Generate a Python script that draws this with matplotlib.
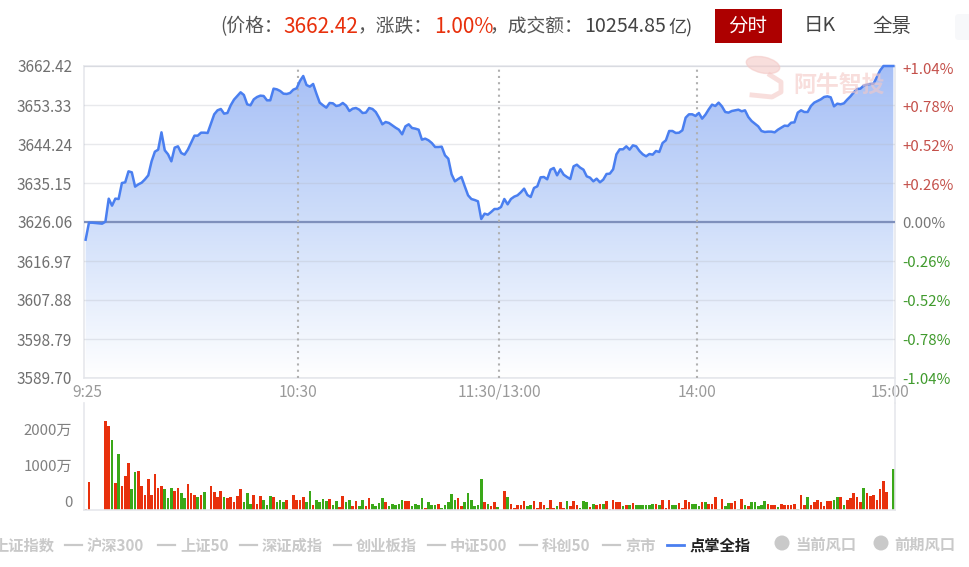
import matplotlib
matplotlib.use("Agg")
import matplotlib.pyplot as plt
import numpy as np
from matplotlib.colors import LinearSegmentedColormap
from matplotlib.patches import Circle, Ellipse, FancyBboxPatch, Rectangle
from matplotlib.transforms import ScaledTranslation

plt.rcParams["font.family"] = ["Noto Sans CJK SC", "DejaVu Sans"]

W, H = 969, 567

# one value per minute slot, 9:25 to 15:00
prices = [
    3621.94, 3625.90, 3625.90, 3625.83, 3625.75, 3625.67, 3626.14, 3631.50, 3629.87, 3631.50,
    3631.42, 3635.15, 3635.31, 3637.87, 3637.64, 3634.30, 3634.84, 3635.23, 3636.01, 3636.94,
    3640.20, 3642.45, 3642.92, 3646.96, 3642.77, 3641.83, 3640.20, 3643.39, 3643.70, 3642.14,
    3641.76, 3642.92, 3644.55, 3646.18, 3646.18, 3646.88, 3646.88, 3646.81, 3648.98, 3651.16,
    3652.09, 3652.40, 3651.31, 3651.47, 3653.26, 3654.58, 3655.43, 3656.29, 3655.66, 3653.49,
    3653.26, 3654.65, 3655.20, 3655.51, 3655.43, 3654.42, 3654.42, 3657.14, 3656.98, 3656.60,
    3655.97, 3655.90, 3656.13, 3656.91, 3657.22, 3658.93, 3660.09, 3657.99, 3657.61, 3658.23,
    3655.97, 3653.88, 3653.26, 3652.71, 3653.80, 3653.72, 3653.10, 3653.26, 3653.80, 3653.18,
    3651.93, 3652.48, 3652.63, 3652.24, 3651.47, 3651.55, 3652.63, 3652.40, 3651.70, 3650.38,
    3648.83, 3649.37, 3649.14, 3648.59, 3648.05, 3647.58, 3646.50, 3648.36, 3648.83, 3647.97,
    3647.82, 3647.58, 3645.25, 3645.49, 3645.10, 3644.47, 3643.54, 3643.54, 3643.62, 3641.60,
    3640.82, 3637.17, 3635.54, 3636.08, 3636.55, 3634.37, 3632.28, 3631.42, 3631.19, 3630.88,
    3626.76, 3628.00, 3627.77, 3628.39, 3629.09, 3629.09, 3629.56, 3631.42, 3630.18, 3631.42,
    3631.97, 3632.28, 3632.98, 3633.83, 3632.35, 3631.89, 3633.99, 3634.37, 3636.47, 3636.55,
    3636.01, 3638.26, 3638.65, 3636.94, 3638.34, 3637.09, 3636.55, 3636.08, 3639.04, 3639.42,
    3638.73, 3638.26, 3636.70, 3636.39, 3635.54, 3636.16, 3635.31, 3635.93, 3637.25, 3637.33,
    3638.34, 3641.83, 3643.00, 3643.00, 3643.70, 3642.92, 3643.93, 3643.70, 3642.61, 3641.83,
    3641.37, 3641.91, 3641.76, 3642.61, 3642.38, 3644.47, 3645.10, 3647.27, 3647.27, 3646.81,
    3646.88, 3647.43, 3650.38, 3651.16, 3651.16, 3650.77, 3651.47, 3650.15, 3651.08, 3652.32,
    3653.41, 3653.10, 3653.88, 3653.02, 3651.70, 3651.55, 3651.93, 3652.09, 3652.24, 3651.86,
    3652.09, 3650.54, 3649.60, 3648.98, 3648.36, 3647.27, 3647.04, 3647.12, 3647.12, 3646.96,
    3647.58, 3648.05, 3648.52, 3648.44, 3649.21, 3649.29, 3651.55, 3652.09, 3651.70, 3651.70,
    3653.10, 3653.88, 3654.27, 3654.65, 3655.20, 3655.35, 3655.12, 3653.02, 3653.64, 3653.49,
    3653.72, 3654.58, 3655.35, 3656.29, 3657.06, 3657.14, 3657.84, 3658.07, 3658.23, 3658.31,
    3659.86, 3661.41, 3662.42, 3662.42, 3662.42, 3662.42,
]

# volume in 万
volumes = [
    28, 768, 0, 0, 0, 0, 2472, 2333, 1944, 741,
    1556, 667, 954, 1296, 574, 1056, 1093, 667, 426, 852,
    426, 991, 602, 667, 574, 324, 602, 528, 602, 463,
    324, 713, 463, 426, 361, 426, 500, 0, 676, 500,
    361, 537, 361, 324, 361, 213, 389, 574, 213, 463,
    176, 426, 176, 389, 278, 139, 389, 352, 213, 278,
    213, 278, 37, 426, 278, 278, 352, 213, 528, 139,
    278, 213, 315, 241, 315, 139, 241, 74, 389, 213,
    278, 102, 241, 111, 278, 111, 324, 176, 111, 204,
    324, 213, 111, 176, 139, 176, 278, 250, 250, 111,
    176, 139, 324, 65, 213, 139, 139, 176, 65, 139,
    213, 435, 287, 324, 111, 213, 463, 278, 111, 139,
    852, 213, 176, 111, 213, 74, 0, 528, 352, 176,
    46, 139, 139, 241, 111, 139, 241, 46, 213, 139,
    65, 278, 46, 111, 213, 65, 241, 111, 241, 139,
    65, 241, 213, 93, 176, 139, 176, 176, 241, 28,
    278, 213, 213, 111, 139, 139, 185, 139, 139, 139,
    139, 139, 176, 176, 139, 278, 65, 278, 139, 139,
    185, 65, 278, 213, 167, 167, 111, 213, 213, 167,
    167, 352, 37, 315, 111, 185, 185, 241, 28, 315,
    139, 111, 213, 213, 111, 139, 241, 167, 139, 139,
    74, 176, 139, 139, 139, 176, 28, 426, 139, 352,
    139, 213, 287, 213, 111, 241, 241, 287, 352, 352,
    139, 287, 324, 463, 352, 213, 602, 463, 389, 426,
    278, 574, 815, 500, 0, 1139,
]

# 1 = up (red), 0 = down (green)
vol_up = [
    1, 1, 1, 1, 1, 1, 1, 1, 0, 1,
    0, 1, 1, 1, 0, 0, 1, 1, 1, 1,
    1, 1, 1, 1, 0, 0, 0, 1, 1, 0,
    0, 1, 1, 1, 0, 1, 0, 1, 1, 1,
    1, 1, 0, 1, 1, 1, 1, 1, 0, 0,
    0, 1, 1, 1, 0, 0, 0, 1, 0, 0,
    0, 1, 1, 1, 1, 1, 1, 0, 0, 1,
    0, 0, 0, 0, 1, 0, 0, 1, 1, 0,
    0, 1, 1, 0, 0, 1, 1, 0, 0, 0,
    0, 1, 0, 0, 0, 0, 0, 1, 1, 0,
    0, 0, 0, 1, 0, 0, 0, 1, 0, 0,
    0, 0, 0, 1, 1, 0, 0, 0, 0, 0,
    0, 1, 0, 1, 1, 0, 1, 1, 0, 1,
    1, 1, 1, 1, 0, 0, 1, 1, 1, 1,
    0, 1, 1, 0, 1, 1, 0, 1, 1, 1,
    0, 0, 0, 1, 0, 1, 1, 0, 1, 1,
    1, 1, 1, 0, 1, 0, 1, 0, 0, 0,
    0, 0, 0, 1, 0, 1, 1, 1, 0, 0,
    1, 1, 1, 1, 0, 0, 0, 1, 0, 1,
    1, 1, 0, 1, 0, 0, 1, 1, 0, 1,
    0, 1, 0, 0, 0, 0, 0, 1, 1, 1,
    0, 1, 1, 1, 1, 1, 0, 1, 1, 0,
    1, 1, 1, 1, 1, 1, 1, 0, 0, 1,
    0, 1, 1, 1, 1, 1, 0, 1, 1, 1,
    1, 1, 1, 1, 1, 0,
]

price_ticks = [3589.70, 3598.79, 3607.88, 3616.97, 3626.06, 3635.15, 3644.24, 3653.33, 3662.42]
pct_labels = ["-1.04%", "-0.78%", "-0.52%", "-0.26%", "0.00%", "+0.26%", "+0.52%", "+0.78%", "+1.04%"]
time_slots = [0, 65, 126, 186, 246]
time_labels = ["9:25", "10:30", "11:30/13:00", "14:00", "15:00"]
vol_ticks = [0, 1000, 2000]
vol_labels = ["0", "1000万", "2000万"]
legend_names = ["沪深300", "上证50", "深证成指", "创业板指", "中证500", "科创50", "京市"]
base_price = 3626.06

LINE = "#4a7ff0"
RED = "#e8300c"
GREEN = "#3aa818"
SPINE = "#e6e8ec"


def px_axes(fig, left, top, right, bottom):
    return fig.add_axes([left / W, 1 - bottom / H, (right - left) / W, (bottom - top) / H])


def px_text(fig, x, y, s, **kw):
    kw.setdefault("va", "center")
    return fig.text(x / W, 1 - y / H, s, **kw)


def nudge(lab, dx, dy):
    # shift a tick label by some pixels
    lab.set_transform(lab.get_transform() + ScaledTranslation(dx / 100, dy / 100, fig.dpi_scale_trans))


fig = plt.figure(figsize=(W / 100, H / 100), dpi=100, facecolor="white")

# price panel
ax = px_axes(fig, 84, 66, 895, 378)
x = np.arange(len(prices)) + 0.5
ax.set_xlim(0, 246)
ax.set_ylim(price_ticks[0], price_ticks[-1])

cmap = LinearSegmentedColormap.from_list("fade", ["#a6bff6", "#cfdefa", "#ffffff"])
grad = ax.imshow(
    np.linspace(0, 1, 256).reshape(-1, 1),
    cmap=cmap,
    aspect="auto",
    extent=(0, 246, price_ticks[0], price_ticks[-1]),
    zorder=1,
)
poly = ax.fill_between(x, prices, price_ticks[0], color="none")
grad.set_clip_path(poly.get_paths()[0], transform=ax.transData)

ax.set_yticks(price_ticks)
ax.set_yticklabels([f"{p:.2f}" for p in price_ticks], fontsize=11, color="#707070")
ax.tick_params(axis="y", length=0, pad=8.5)
ax.grid(True, axis="y", color="#b4b8c2", alpha=0.3, linewidth=1, zorder=2)
ax.set_axisbelow(False)
ax.set_xticks(time_slots)
ax.set_xticklabels(time_labels, fontsize=11.2, color="#9a9a9a")
ax.tick_params(axis="x", length=0, pad=4)
nudge(ax.get_xticklabels()[0], 3, 0)
nudge(ax.get_xticklabels()[-1], -5, 0)
ax.axhline(base_price, color="#7f90bc", linewidth=1.6, zorder=3)
ax.vlines(time_slots[1:4], price_ticks[0], price_ticks[-1], color="#b0b0b0",
          linewidth=1.5, linestyles=(0, (1, 2)), zorder=3)
ax.plot(x, prices, color=LINE, linewidth=1.8, zorder=4, solid_joinstyle="round", clip_on=False)
for side in ax.spines.values():
    side.set_color(SPINE)
    side.set_linewidth(1.2)

ax2 = ax.twinx()
ax2.set_ylim(ax.get_ylim())
ax2.set_yticks(price_ticks)
ax2.set_yticklabels(pct_labels, fontsize=10.8)
ax2.tick_params(axis="y", length=0, pad=5)
for i, (lab, name) in enumerate(zip(ax2.get_yticklabels(), pct_labels)):
    nudge(lab, 0, -i / 4)
    if name.startswith("+"):
        lab.set_color("#c4504a")
    elif name.startswith("-"):
        lab.set_color("#3f9a2c")
    else:
        lab.set_color("#777777")
for side in ax2.spines.values():
    side.set_visible(False)

# watermark
wm = "#f4c9c6"
px_text(fig, 793, 86, "阿牛智投", fontsize=16.5, color=wm, alpha=0.6, fontweight="bold", zorder=6)
overlay = fig.add_axes([0, 0, 1, 1], facecolor="none", zorder=5)
overlay.set_xlim(0, W)
overlay.set_ylim(H, 0)
overlay.axis("off")
overlay.add_patch(Ellipse((763, 65), 34, 16, angle=12, color=wm, alpha=0.6))
overlay.plot([770, 781, 781, 772, 752], [75, 82, 92, 97, 95], color=wm, linewidth=3.5, alpha=0.6)

# volume panel
ax_vol = px_axes(fig, 84, 403, 895, 510)
ax_vol.set_xlim(0, 246)
ax_vol.set_ylim(0, 107 / 0.036)
bar_colors = [RED if u else GREEN for u in vol_up]
ax_vol.bar(x, volumes, width=0.8, color=bar_colors, linewidth=0)
ax_vol.set_xticks([])
ax_vol.set_yticks(vol_ticks)
ax_vol.set_yticklabels(vol_labels, fontsize=10.8, color="#808080", va="bottom")
ax_vol.tick_params(axis="y", length=0, pad=8.5)
ax_vol.spines["top"].set_visible(False)
for name in ["left", "right", "bottom"]:
    ax_vol.spines[name].set_color(SPINE)
    ax_vol.spines[name].set_linewidth(1.2)
overlay.plot([895, 895], [378, 403], color=SPINE, linewidth=1.2)

# header, digits run wider than the CJK text
cjk = {"fontsize": 13.5, "ha": "left"}
num = {"fontsize": 15, "ha": "left"}
px_text(fig, 220, 27, "(价格：", color="#555555", **cjk)
px_text(fig, 283, 27, "3662.42", color=RED, **num)
px_text(fig, 358, 27, "，涨跌：", color="#555555", **cjk)
px_text(fig, 434, 27, "1.00%", color=RED, **num)
px_text(fig, 490, 27, "，成交额：", color="#555555", **cjk)
px_text(fig, 584, 27, "10254.85", color="#444444", fontsize=14.2, ha="left")
px_text(fig, 668, 27, "亿)", color="#444444", fontsize=13, ha="left")
overlay.add_patch(Rectangle((715, 9), 67, 34, color="#ad0000", linewidth=0))
px_text(fig, 748, 26, "分时", fontsize=14, color="white", ha="center", zorder=6)
px_text(fig, 820, 26, "日K", fontsize=14, color="#444444", ha="center", zorder=6)
px_text(fig, 892, 26, "全景", fontsize=14, color="#444444", ha="center", zorder=6)
overlay.add_patch(FancyBboxPatch((955, 14), 30, 26, boxstyle="round,pad=0,rounding_size=4",
                                 color="#f7f8fa", linewidth=0))

# legend strip
grey = "#c9c9c9"
leg = {"fontsize": 11, "fontweight": "bold", "color": grey}
px_text(fig, 54, 546, "上证指数", ha="right", **leg)
dash_x = [65, 158, 240, 334, 428, 520, 603]
for dx, name in zip(dash_x, legend_names):
    overlay.plot([dx, dx + 17], [545, 545], color=grey, linewidth=1.6)
    px_text(fig, dx + 22, 546, name, ha="left", **leg)
overlay.plot([667, 684], [545, 545], color=LINE, linewidth=2)
px_text(fig, 690, 546, "点掌全指", ha="left", fontsize=11, fontweight="bold", color="#222222")
for cx, name in [(782, "当前风口"), (881, "前期风口")]:
    overlay.add_patch(Circle((cx, 543), 7.5, color=grey, linewidth=0))
    px_text(fig, cx + 13, 545, name, ha="left", **leg)

fig.savefig("out.png", dpi=100)
